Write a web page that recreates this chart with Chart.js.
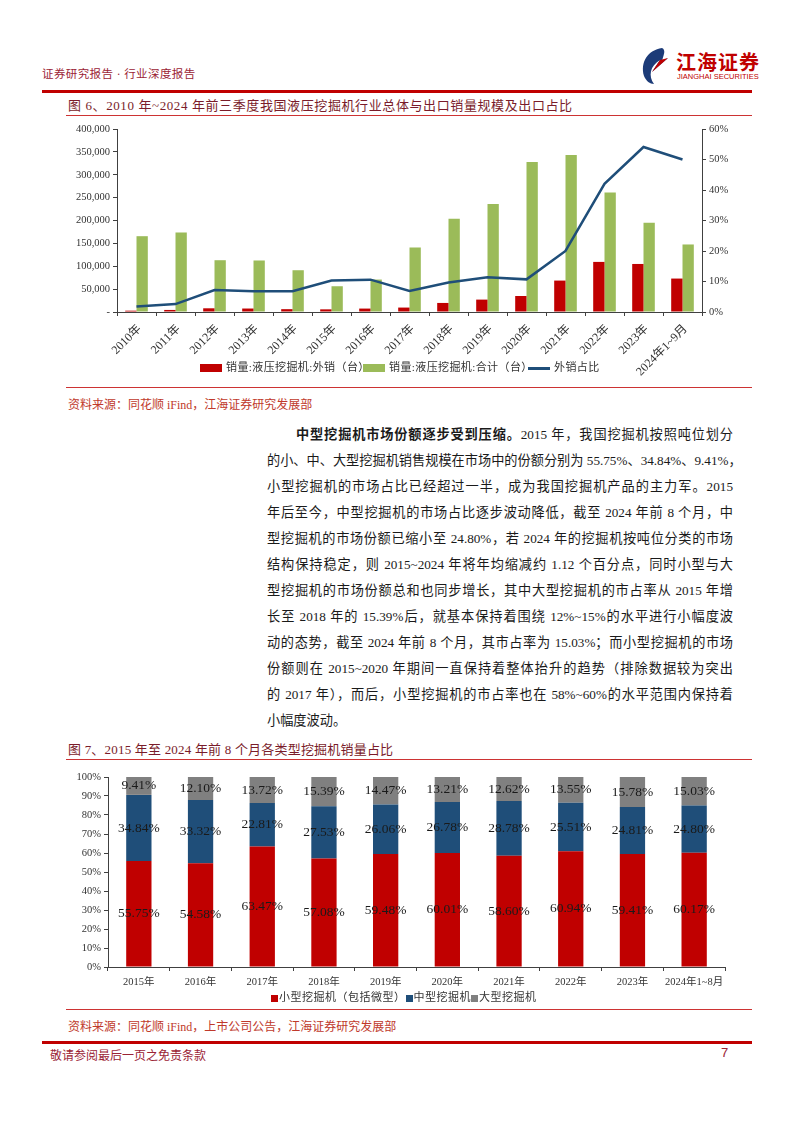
<!DOCTYPE html>
<html>
<head>
<meta charset="utf-8">
<script src="https://cdn.jsdelivr.net/npm/chart.js@4.4.1/dist/chart.umd.min.js"></script>
<style>
  body { margin: 0; width: 794px; height: 1123px; position: relative; background: #fff;
         font-family: "Liberation Serif", "Noto Sans CJK SC", serif; color: #1a1a1a; }
  .abs { position: absolute; }
  .hr { position: absolute; background: #c00000; }
  .title { position: absolute; left: 68px; font-size: 13px; color: #7a1c2a; letter-spacing: 0.6px; white-space: nowrap; }
  .source { position: absolute; left: 68px; font-size: 12px; color: #c0392b; white-space: nowrap; }
  .para div { position: absolute; left: 267px; width: 466px; height: 26px; line-height: 26px;
              font-size: 13.2px; white-space: nowrap; text-align: justify; text-align-last: justify; }
  .legend { position: absolute; font-size: 11px; color: #333; white-space: nowrap; line-height: 14px; }
  .sw { display: inline-block; vertical-align: middle; margin-right: 4px; }
</style>
</head>
<body>

<!-- header -->
<div class="abs" style="left:42px;top:65px;font-size:11.5px;color:#9b2335;letter-spacing:0.4px;">证券研究报告 · 行业深度报告</div>
<svg class="abs" style="left:638px;top:46px" width="38" height="40" viewBox="0 0 38 40">
  <path d="M24 2 C10 4 2 16 6 30 C8 35 12 38 16 38 C10 30 12 20 22 14 L14 26 L30 12 L24 15 C26 8 28 4 24 2 Z" fill="#1c3b78"/>
  <path d="M22 14 L14 26 L30 12 Z" fill="#c00000"/>
</svg>
<div class="abs" style="left:676px;top:47px;font-size:20px;font-weight:bold;color:#c00000;letter-spacing:1px;font-family:'Noto Sans CJK SC';">江海证券</div>
<div class="abs" style="left:677px;top:72px;font-size:7.5px;color:#c00000;font-family:'Liberation Sans';">JIANGHAI SECURITIES</div>
<div class="hr" style="left:42px;top:90px;width:710px;height:2.5px;"></div>

<!-- figure 6 -->
<div class="title" style="top:95px;">图 6、2010 年~2024 年前三季度我国液压挖掘机行业总体与出口销量规模及出口占比</div>
<div class="hr" style="left:66px;top:115px;width:686px;height:1px;opacity:0.8"></div>
<canvas id="fig6" class="abs" style="left:60px;top:118px;" width="680" height="262"></canvas>
<div class="legend" style="left:200px;top:360px;letter-spacing:0.4px;"><span class="sw" style="width:22px;height:8px;background:#c00000"></span>销量:液压挖掘机:外销（台）</div>
<div class="legend" style="left:363px;top:360px;letter-spacing:0.4px;"><span class="sw" style="width:22px;height:8px;background:#9bbb59"></span>销量:液压挖掘机:合计（台）</div>
<div class="legend" style="left:528px;top:360px;letter-spacing:0.4px;"><span class="sw" style="width:22px;height:2.5px;background:#1f4e79"></span>外销占比</div>
<div class="hr" style="left:66px;top:387px;width:686px;height:1px;opacity:0.8"></div>
<div class="source" style="top:395px;">资料来源：同花顺 iFind，江海证券研究发展部</div>

<!-- paragraph -->
<div class="para">
  <div style="top:422px;padding-left:29px;width:437px;"><b>中型挖掘机市场份额逐步受到压缩。</b>2015 年，我国挖掘机按照吨位划分</div>
  <div style="top:448px;">的小、中、大型挖掘机销售规模在市场中的份额分别为 55.75%、34.84%、9.41%，</div>
  <div style="top:474px;">小型挖掘机的市场占比已经超过一半，成为我国挖掘机产品的主力军。2015</div>
  <div style="top:500px;">年后至今，中型挖掘机的市场占比逐步波动降低，截至 2024 年前 8 个月，中</div>
  <div style="top:526px;">型挖掘机的市场份额已缩小至 24.80%，若 2024 年的挖掘机按吨位分类的市场</div>
  <div style="top:552px;">结构保持稳定，则 2015~2024 年将年均缩减约 1.12 个百分点，同时小型与大</div>
  <div style="top:578px;">型挖掘机的市场份额总和也同步增长，其中大型挖掘机的市占率从 2015 年增</div>
  <div style="top:604px;">长至 2018 年的 15.39%后，就基本保持着围绕 12%~15%的水平进行小幅度波</div>
  <div style="top:630px;">动的态势，截至 2024 年前 8 个月，其市占率为 15.03%；而小型挖掘机的市场</div>
  <div style="top:656px;">份额则在 2015~2020 年期间一直保持着整体抬升的趋势（排除数据较为突出</div>
  <div style="top:682px;">的 2017 年），而后，小型挖掘机的市占率也在 58%~60%的水平范围内保持着</div>
  <div style="top:708px;text-align-last:left;">小幅度波动。</div>
</div>

<!-- figure 7 -->
<div class="title" style="top:739px;letter-spacing:0.2px;">图 7、2015 年至 2024 年前 8 个月各类型挖掘机销量占比</div>
<div class="hr" style="left:66px;top:759px;width:686px;height:1px;opacity:0.8"></div>
<canvas id="fig7" class="abs" style="left:60px;top:765px;" width="680" height="227"></canvas>
<div class="legend" style="left:271px;top:990px;letter-spacing:0.5px;">
  <span class="sw" style="width:7px;height:7px;background:#c00000;margin-right:1px"></span>小型挖掘机（包括微型）<span class="sw" style="width:7px;height:7px;background:#1f4e79;margin-right:1px"></span>中型挖掘机<span class="sw" style="width:7px;height:7px;background:#808080;margin-right:1px"></span>大型挖掘机
</div>
<div class="hr" style="left:66px;top:1009px;width:686px;height:1px;opacity:0.8"></div>
<div class="source" style="top:1017px;">资料来源：同花顺 iFind，上市公司公告，江海证券研究发展部</div>

<!-- footer -->
<div class="hr" style="left:42px;top:1041px;width:710px;height:3px;"></div>
<div class="abs" style="left:50px;top:1046px;font-size:12px;color:#9b2335;">敬请参阅最后一页之免责条款</div>
<div class="abs" style="left:721px;top:1045px;font-size:13px;color:#9b2335;font-family:'Liberation Sans';">7</div>

<script>
// Figure 6: hydraulic excavator sales, total vs export
const years6 = ["2010年", "2011年", "2012年", "2013年", "2014年", "2015年", "2016年", "2017年",
                "2018年", "2019年", "2020年", "2021年", "2022年", "2023年", "2024年1~9月"];
const exportSales = [2900, 4500, 8100, 7600, 6200, 5800, 7500, 9700,
                     19800, 27100, 35000, 68700, 109500, 105000, 73100];
const totalSales = [165700, 173800, 113200, 112600, 91300, 56300, 70900, 141000,
                    203600, 235800, 327700, 343100, 261400, 194900, 147600];
const exportShare = [1.8, 2.6, 7.2, 6.8, 6.8, 10.3, 10.6, 6.9,
                     9.7, 11.4, 10.7, 20.0, 42.0, 54.1, 50.0];

// Figure 7: share by excavator size
const years7 = ["2015年", "2016年", "2017年", "2018年", "2019年", "2020年", "2021年", "2022年", "2023年", "2024年1~8月"];
const smallShare = [55.75, 54.58, 63.47, 57.08, 59.48, 60.01, 58.60, 60.94, 59.41, 60.17];
const mediumShare = [34.84, 33.32, 22.81, 27.53, 26.06, 26.78, 28.78, 25.51, 24.81, 24.80];
const largeShare = [9.41, 12.10, 13.72, 15.39, 14.47, 13.21, 12.62, 13.55, 15.78, 15.03];

const tickFont = { family: "'Liberation Serif', 'Noto Sans CJK SC'", size: 10.5 };
const axisColor = "#404040";

new Chart(document.getElementById("fig6").getContext("2d"), {
  type: "bar",
  data: {
    labels: years6,
    datasets: [
      { label: "外销占比", type: "line", data: exportShare, yAxisID: "y1",
        borderColor: "#1f4e79", borderWidth: 2.5, pointRadius: 0, tension: 0, order: 0 },
      { label: "销量:液压挖掘机:外销（台）", data: exportSales, backgroundColor: "#c00000",
        categoryPercentage: 0.58, barPercentage: 1, order: 1 },
      { label: "销量:液压挖掘机:合计（台）", data: totalSales, backgroundColor: "#9bbb59",
        categoryPercentage: 0.58, barPercentage: 1, order: 1 },
    ],
  },
  options: {
    responsive: false,
    animation: false,
    layout: { padding: { top: 11, left: 0, right: 0, bottom: 0 } },
    plugins: { legend: { display: false }, tooltip: { enabled: false } },
    scales: {
      x: {
        grid: { offset: true, drawOnChartArea: false, tickLength: 4, color: axisColor },
        border: { color: axisColor },
        ticks: { minRotation: 45, maxRotation: 45, font: { ...tickFont, size: 12 }, color: "#333",
                 labelOffset: 3, padding: 6 },
        afterFit: (s) => { s.height = 68; },
      },
      y: {
        min: 0, max: 400000,
        grid: { drawOnChartArea: false, tickLength: 4, color: axisColor },
        border: { color: axisColor },
        ticks: { stepSize: 50000, font: tickFont, color: "#333",
                 callback: (v) => (v === 0 ? "-" : v.toLocaleString("en-US")) },
        afterFit: (s) => { s.width = 57; },
      },
      y1: {
        position: "right", min: 0, max: 60,
        grid: { drawOnChartArea: false, tickLength: 4, color: axisColor },
        border: { color: axisColor },
        ticks: { stepSize: 10, font: tickFont, color: "#333", callback: (v) => v + "%" },
        afterFit: (s) => { s.width = 38; },
      },
    },
  },
});

// percentage labels centred in each stacked segment
const segmentLabels = {
  id: "segmentLabels",
  afterDatasetsDraw(chart) {
    const ctx = chart.ctx;
    ctx.save();
    ctx.font = "13.5px 'Liberation Serif'";
    ctx.fillStyle = "#1a1a1a";
    ctx.textAlign = "center";
    ctx.textBaseline = "middle";
    chart.data.datasets.forEach((ds, i) => {
      chart.getDatasetMeta(i).data.forEach((bar, j) => {
        ctx.fillText(ds.data[j].toFixed(2) + "%", bar.x, (bar.y + bar.base) / 2);
      });
    });
    ctx.restore();
  },
};

new Chart(document.getElementById("fig7").getContext("2d"), {
  type: "bar",
  data: {
    labels: years7,
    datasets: [
      { label: "小型挖掘机（包括微型）", data: smallShare, backgroundColor: "#c00000" },
      { label: "中型挖掘机", data: mediumShare, backgroundColor: "#1f4e79" },
      { label: "大型挖掘机", data: largeShare, backgroundColor: "#808080" },
    ],
  },
  options: {
    responsive: false,
    animation: false,
    datasets: { bar: { categoryPercentage: 1, barPercentage: 0.41 } },
    layout: { padding: { top: 12, left: 0, right: 15, bottom: 0 } },
    plugins: { legend: { display: false }, tooltip: { enabled: false } },
    scales: {
      x: {
        stacked: true,
        grid: { offset: true, drawOnChartArea: false, tickLength: 4, color: axisColor },
        border: { color: axisColor },
        ticks: { font: tickFont, color: "#333", maxRotation: 0, padding: 5 },
        afterFit: (s) => { s.height = 25; },
      },
      y: {
        stacked: true, min: 0, max: 100,
        grid: { drawOnChartArea: false, tickLength: 4, color: axisColor },
        border: { color: axisColor },
        ticks: { stepSize: 10, font: tickFont, color: "#333", callback: (v) => v + "%" },
        afterFit: (s) => { s.width = 48; },
      },
    },
  },
  plugins: [segmentLabels],
});
</script>
</body>
</html>
